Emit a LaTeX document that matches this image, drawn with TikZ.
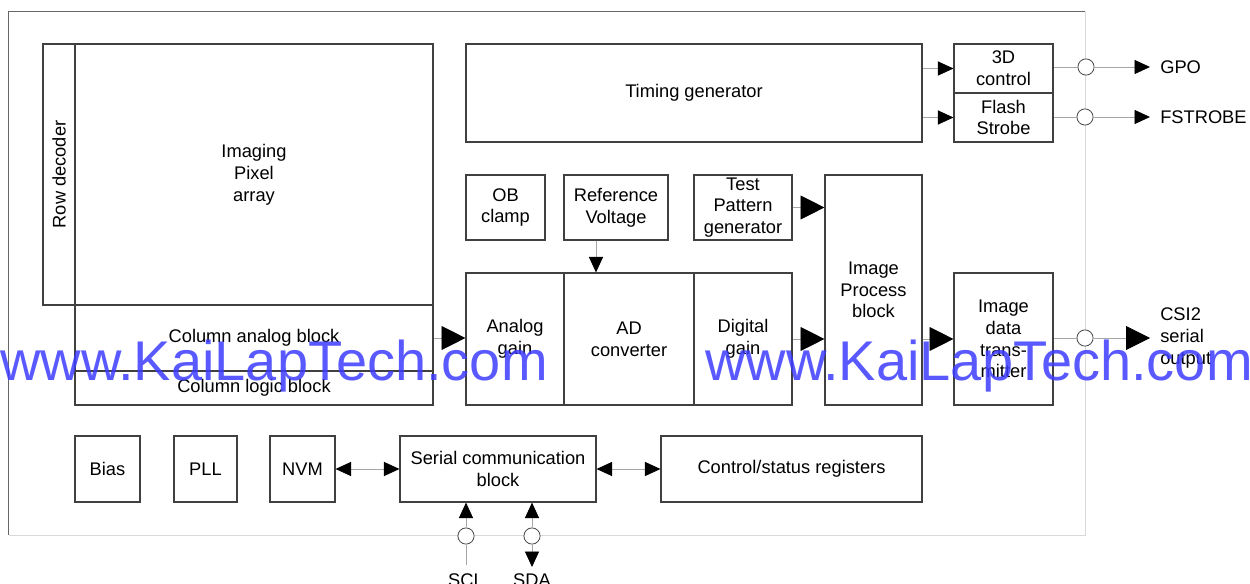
\documentclass[tikz,border=0pt]{standalone}
\usepackage{fontspec}
\setmainfont{Liberation Sans}
\usetikzlibrary{arrows.meta,fit}
\definecolor{wmblue}{RGB}{60,60,255}
\begin{document}
\begin{tikzpicture}[x=0.025cm, y=-0.025cm,
    blk/.style={draw=black!75, line width=0.8pt, inner sep=0pt, align=center, font=\fontsize{13}{15.5}\selectfont},
    box/.style n args={4}{blk, minimum width={(#3-#1)*0.025cm}, minimum height={(#4-#2)*0.025cm},
      at={({(#1+#3)/2},{(#2+#4)/2})}},
    lbl/.style={inner sep=0pt, align=left, font=\fontsize{13}{15.5}\selectfont},
    port/.style={circle, draw=black!70, fill=white, line width=0.6pt, minimum size=11.5pt, inner sep=0pt},
    con/.style={draw=black!35, line width=0.6pt},
    stip/.style={con, -{Triangle[length=11pt, width=10pt, color=black]}},
    btip/.style={con, -{Triangle[length=17pt, width=17pt, color=black]}},
    dtip/.style={con, {Triangle[length=11pt, width=10pt, color=black]}-{Triangle[length=11pt, width=10pt, color=black]}},
    wm/.style={inner sep=0pt, anchor=base west, text=wmblue, text opacity=0.85, font=\fontsize{39.8}{44}\selectfont}]
  \useasboundingbox (0,0) rectangle (1250,584);

  \node[fit={(9,12) (1085,535)}, inner sep=0pt] (chip) {};
  \draw[black!60, line width=0.8pt] (chip.north east) -- (chip.north west) -- (chip.south west);
  \draw[black!15, line width=0.8pt] (chip.south west) -- (chip.south east) -- (chip.north east);

  \node[box={43}{44}{75}{305}] (rowdec) {};
  \node[lbl, rotate=90] (rowtxt) at (rowdec.center) {Row decoder};
  \node[box={75}{44}{433}{305}] (pixel) {Imaging\\Pixel\\array};
  \node[box={75}{305}{433}{371}] (colana) {Column analog block};
  \node[box={75}{371}{433}{405}] (collog) {Column logic block};

  \node[box={466}{44}{922}{142}] (timing) {Timing generator};
  \node[box={954}{44}{1053}{93}] (ctl3d) {3D\\control};
  \node[box={954}{93}{1053}{142}] (flash) {Flash\\Strobe};

  \node[box={466}{175}{545}{240}] (obc) {OB\\clamp};
  \node[box={564}{175}{668}{240}] (refv) {Reference\\Voltage};
  \node[box={694}{175}{792}{240}] (tpg) {Test\\Pattern\\generator};
  \node[box={466}{273}{564}{405}] (again) {Analog\\gain};
  \node[box={564}{273}{694}{405}] (adc) {AD\\converter};
  \node[box={694}{273}{792}{405}] (dgain) {Digital\\gain};
  \node[box={825}{175}{922}{405}] (ipb) {Image\\Process\\block};
  \node[box={954}{273}{1053}{405}] (idt) {Image\\data\\trans-\\mitter};

  \foreach \n/\a/\b/\t in {bias/75/140/Bias, pll/174/237/PLL, nvm/270/335/NVM} {
    \node[box={\a}{436}{\b}{502}] (\n) {\t};
  }
  \node[box={400}{436}{596}{502}] (serial) {Serial communication\\block};
  \node[box={661}{436}{922}{502}] (csr) {Control/status registers};

  \draw[stip] (timing.east |- ctl3d) -- (ctl3d.west);
  \draw[stip] (timing.east |- flash) -- (flash.west);
  \draw[stip] ([xshift=-0.5cm]refv.south) -- ([xshift=-0.5cm]refv.south |- adc.north);
  \draw[btip] (tpg.east) -- (tpg.east -| ipb.west);
  \draw[btip] (colana.east) -- (colana.east -| again.west);
  \draw[btip] (dgain.east) -- (dgain.east -| ipb.west);
  \draw[btip] (ipb.east |- idt) -- (idt.west);
  \draw[dtip] (nvm.east) -- (nvm.east -| serial.west);
  \draw[dtip] (serial.east) -- (serial.east -| csr.west);

  \node[port] (gpoc) at (1086,67) {};
  \node[port] (fstc) at (1085,117) {};
  \node[port] (csic) at (1085,338) {};
  \node[lbl, anchor=west] (gpo) at (1160,67) {GPO};
  \node[lbl, anchor=west] (fst) at (1160,117) {FSTROBE};
  \node[lbl, anchor=west] (csi) at (1160,338) {CSI2\\serial\\output};
  \draw[con] (ctl3d.east |- gpoc) -- (gpoc);
  \draw[con] (flash.east |- fstc) -- (fstc);
  \draw[con] (idt.east |- csic) -- (csic);
  \draw[stip, shorten >=0.25cm] (gpoc) -- (gpo.west);
  \draw[stip, shorten >=0.25cm] (fstc) -- (fst.west);
  \draw[btip, shorten >=0.25cm] (csic) -- (csi.west);

  \node[port] (sclc) at (466,536) {};
  \node[port] (sdac) at (532,536) {};
  \node[lbl, anchor=north] (scl) at (466,573) {SCL};
  \node[lbl, anchor=north] (sda) at (532,573) {SDA};
  \draw[con, shorten <=0.2cm] (scl.north) -- (sclc);
  \draw[stip] (sclc) -- (sclc |- serial.south);
  \draw[stip, shorten >=0.15cm] (sdac) -- (sda.north);
  \draw[stip] (sdac) -- (sdac |- serial.south);

  \node[wm] (wm1) at (0,380) {www.KaiLapTech.com};
  \node[wm] (wm2) at (705,380) {www.KaiLapTech.com};
\end{tikzpicture}
\end{document}
